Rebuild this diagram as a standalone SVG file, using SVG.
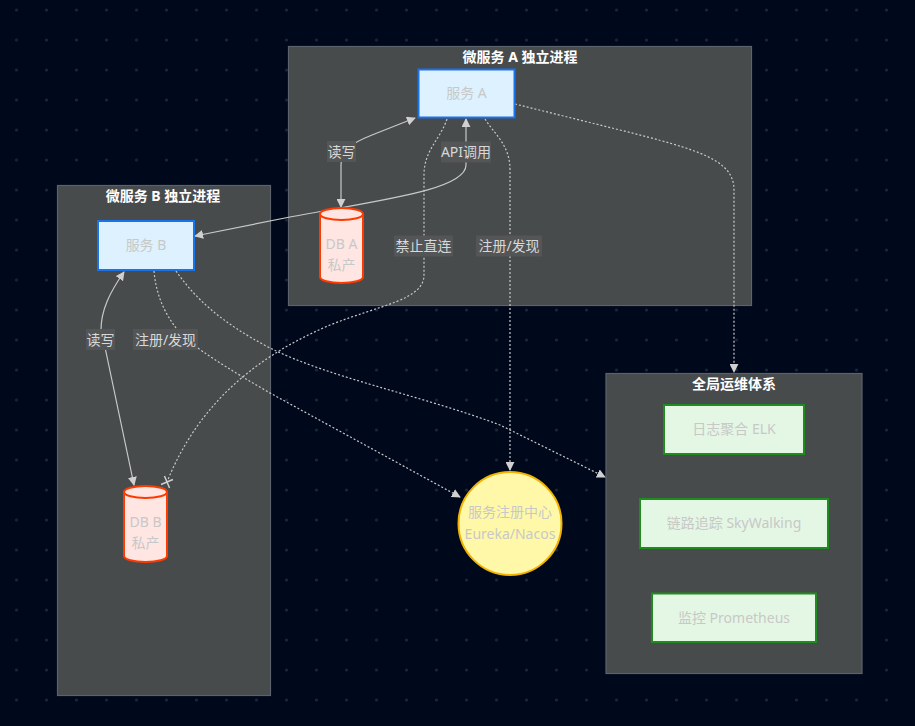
<svg xmlns="http://www.w3.org/2000/svg" width="915" height="726" viewBox="0 0 915 726">
<defs>
<pattern id="dots" x="0" y="0" width="30" height="30" patternUnits="userSpaceOnUse">
<circle cx="16.5" cy="10" r="1.6" fill="#1c2436"/>
</pattern>
<marker id="arr" viewBox="0 0 10 10" refX="9" refY="5" markerWidth="9" markerHeight="9" markerUnits="userSpaceOnUse" orient="auto-start-reverse">
<path d="M0,0 L10,5 L0,10 z" fill="#d0d0d0"/>
</marker>
<marker id="cross" viewBox="0 0 12 12" refX="6" refY="6" markerWidth="11" markerHeight="11" markerUnits="userSpaceOnUse" orient="auto">
<path d="M1,1 L11,11 M11,1 L1,11" stroke="#d0d0d0" stroke-width="1.6" fill="none"/>
</marker>
<style>
text{font-family:"Noto Sans","Noto Sans CJK SC",sans-serif;}
.cl{fill:#484b4c;stroke:#5c626c;stroke-width:1.2;}
.ct{fill:#ffffff;font-size:14px;font-weight:bold;text-anchor:middle;}
.svc{fill:#ddf2fe;stroke:#1a73e8;stroke-width:2;}
.db{fill:#ffe6e3;stroke:#ff3a00;stroke-width:2;}
.ops{fill:#e4f7e4;stroke:#1e8c1e;stroke-width:2;}
.reg{fill:#fff8a8;stroke:#f2b400;stroke-width:2;}
.nt{fill:#c8c8c8;font-size:14px;text-anchor:middle;}
.e{fill:none;stroke:#c8c8c8;stroke-width:1.2;}
.d{stroke-dasharray:2 2;}
.lb{fill:#545556;}
.lt{fill:#d8d8d8;font-size:14px;text-anchor:middle;}
</style>
</defs>
<rect x="0" y="0" width="915" height="726" fill="#00081c"/>
<rect x="0" y="0" width="915" height="726" fill="url(#dots)"/>

<g id="cluster-A">
<rect class="cl" x="288.5" y="46.5" width="463" height="259"/>
<text class="ct" x="520" y="62">微服务 A 独立进程</text>
</g>
<g id="cluster-B">
<rect class="cl" x="57.5" y="185.5" width="213" height="510"/>
<text class="ct" x="163" y="201">微服务 B 独立进程</text>
</g>
<g id="cluster-ops">
<rect class="cl" x="606" y="373.5" width="256" height="300"/>
<text class="ct" x="734" y="389">全局运维体系</text>
</g>

<g id="connectors">
<path class="e" d="M341,207 L341,165 C341,150 352,143 372,135 L415,118" marker-start="url(#arr)" marker-end="url(#arr)"/>
<path class="e" d="M195,236 L290,217 C380,200 466,190 466,165 L466,119" marker-start="url(#arr)" marker-end="url(#arr)"/>
<path class="e d" d="M447,119 C440,140 424,150 424,175 L424,275 C424,300 380,305 330,325 C260,355 200,400 167,482" marker-end="url(#cross)"/>
<path class="e d" d="M485,119 C495,135 510,145 510,170 L510,470" marker-end="url(#arr)"/>
<path class="e d" d="M515,104 L620,130 C700,150 734,160 734,190 L734,372" marker-end="url(#arr)"/>
<path class="e d" d="M154,271 C156,295 165,315 180,333 C190,345 230,370 270,393 L460,497" marker-end="url(#arr)"/>
<path class="e d" d="M176,271 C195,298 220,322 270,348 C330,378 420,395 500,425 L605,477" marker-end="url(#arr)"/>
<path class="e" d="M134,485 L106,352 L101,330 C101,310 110,292 124,272" marker-start="url(#arr)" marker-end="url(#arr)"/>

<rect class="lb" x="327" y="141" width="29" height="21"/>
<text class="lt" x="341.5" y="156.5">读写</text>
<rect class="lb" x="441" y="141.5" width="50" height="21"/>
<text class="lt" x="466" y="157">API调用</text>
<rect class="lb" x="394" y="235.5" width="59" height="21"/>
<text class="lt" x="423.5" y="251">禁止直连</text>
<rect class="lb" x="476" y="235.5" width="66" height="21"/>
<text class="lt" x="509" y="251">注册/发现</text>
<rect class="lb" x="86" y="329" width="29" height="21"/>
<text class="lt" x="100.5" y="344.5">读写</text>
<rect class="lb" x="133" y="329" width="65" height="21"/>
<text class="lt" x="165.5" y="344.5">注册/发现</text>
</g>

<g id="svcA">
<rect class="svc" x="418.5" y="69.5" width="96" height="48"/>
<text class="nt" x="466.5" y="98">服务 A</text>
</g>
<g id="svcB">
<rect class="svc" x="98" y="221" width="96" height="49"/>
<text class="nt" x="146" y="250">服务 B</text>
</g>
<g id="dbA">
<path class="db" d="M320,214 a21.5,6 0 0 0 43,0 a21.5,6 0 0 0 -43,0 l0,63 a21.5,6 0 0 0 43,0 l0,-63"/>
<text class="nt" x="341.5" y="249">DB A</text>
<text class="nt" x="341.5" y="270">私产</text>
</g>
<g id="dbB">
<path class="db" d="M124,492 a21.5,6 0 0 0 43,0 a21.5,6 0 0 0 -43,0 l0,64 a21.5,6 0 0 0 43,0 l0,-64"/>
<text class="nt" x="145.5" y="526.5">DB B</text>
<text class="nt" x="145.5" y="548">私产</text>
</g>
<g id="registry">
<circle class="reg" cx="510" cy="523.5" r="51.5"/>
<text class="nt" x="510" y="516.5">服务注册中心</text>
<text class="nt" x="510" y="539">Eureka/Nacos</text>
</g>
<g id="elk">
<rect class="ops" x="664" y="405" width="140" height="49"/>
<text class="nt" x="734" y="434">日志聚合 ELK</text>
</g>
<g id="skywalking">
<rect class="ops" x="640" y="499" width="188" height="49"/>
<text class="nt" x="734" y="528">链路追踪 SkyWalking</text>
</g>
<g id="prometheus">
<rect class="ops" x="652" y="593.5" width="164" height="48.5"/>
<text class="nt" x="734" y="622.5">监控 Prometheus</text>
</g>
</svg>
